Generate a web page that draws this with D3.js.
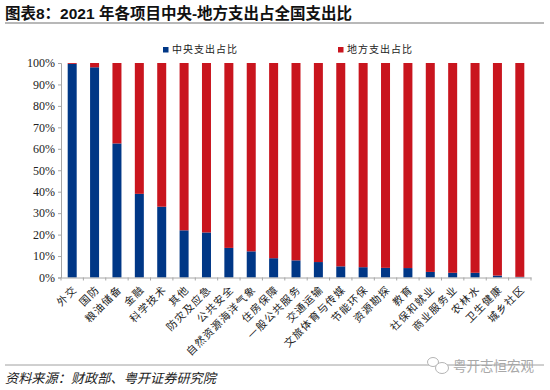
<!DOCTYPE html>
<html>
<head>
<meta charset="utf-8">
<script src="https://cdn.jsdelivr.net/npm/d3@7"></script>
<style>
  html, body { margin: 0; padding: 0; background: #fff; }
  svg { display: block; }
  .cjk { font-family: "Noto Sans CJK SC", sans-serif; }
  .axis text { font-family: "Liberation Serif", serif; font-size: 12px; fill: #222; }
  .axis path, .axis line { stroke: #a6a6a6; }
</style>
</head>
<body>
<div id="chart"></div>
<script>
var categories = ["外交", "国防", "粮油储备", "金融", "科学技术", "其他", "防灾及应急", "公共安全",
  "自然资源海洋气象", "住房保障", "一般公共服务", "交通运输", "文旅体育与传媒", "节能环保",
  "资源勘探", "教育", "社保和就业", "商业服务业", "农林水", "卫生健康", "城乡社区"];
var centralShare = [99.6, 98, 62.5, 39, 33, 22, 21, 13.8, 12.2, 9, 8, 7.2, 5.2, 4.8, 4.5, 4.4, 2.6, 2.2, 2.2, 0.9, 0.3];
var localShare = [0.4, 2, 37.5, 61, 67, 78, 79, 86.2, 87.8, 91, 92, 92.8, 94.8, 95.2, 95.5, 95.6, 97.4, 97.8, 97.8, 99.1, 99.7];
var yTicks = [0, 10, 20, 30, 40, 50, 60, 70, 80, 90, 100];
var seriesNames = ["中央支出占比", "地方支出占比"];
var seriesColors = ["#003786", "#c9151e"];

var width = 550, height = 390;
var margin = {top: 63, right: 19, bottom: 112, left: 61};

var svg = d3.select("#chart").append("svg")
  .attr("width", width)
  .attr("height", height);

// title and rules
svg.append("text")
  .attr("x", 5)
  .attr("y", 19)
  .style("font-family", "'Liberation Sans', 'Noto Sans CJK SC', sans-serif")
  .style("font-size", "15.5px")
  .style("font-weight", "700")
  .style("fill", "#111")
  .text("图表8：2021 年各项目中央-地方支出占全国支出比");

svg.append("line")
  .attr("x1", 5).attr("x2", 544).attr("y1", 23).attr("y2", 23)
  .attr("stroke", "#a0a0a0").attr("stroke-width", 1.5);

svg.append("line")
  .attr("x1", 5).attr("x2", 544).attr("y1", 365).attr("y2", 365)
  .attr("stroke", "#a0a0a0").attr("stroke-width", 1);

var x = d3.scaleBand()
  .domain(categories)
  .range([margin.left, width - margin.right]);

var y = d3.scaleLinear()
  .domain([0, 100])
  .range([height - margin.bottom - 0.5, margin.top]);

var barWidth = 9;

// stacked bars, central at the bottom
var rows = categories.map(function(c, i) {
  return {name: c, central: centralShare[i], local: localShare[i]};
});
var stack = d3.stack().keys(["central", "local"]);
var layers = svg.selectAll(".layer")
  .data(stack(rows))
  .enter().append("g")
  .attr("class", "layer")
  .attr("fill", function(d, i) { return seriesColors[i]; });

layers.selectAll("rect")
  .data(function(d) { return d; })
  .enter().append("rect")
  .attr("x", function(d) { return x(d.data.name) + x.bandwidth() / 2 - barWidth / 2; })
  .attr("y", function(d) { return y(d[1]); })
  .attr("width", barWidth)
  .attr("height", function(d) { return y(d[0]) - y(d[1]); });

// axes
svg.append("g")
  .attr("class", "axis")
  .attr("transform", "translate(" + margin.left + ",0)")
  .call(d3.axisLeft(y).tickValues(yTicks).tickSize(3).tickFormat(function(d) { return d + "%"; }));

var xAxis = svg.append("g")
  .attr("class", "axis")
  .attr("transform", "translate(0," + y(0) + ")")
  .call(d3.axisBottom(x).tickSize(0));

xAxis.selectAll(".tick text")
  .attr("class", "cjk")
  .style("font-family", "'Noto Sans CJK SC', sans-serif")
  .style("font-size", "10.5px")
  .style("letter-spacing", "1.2px")
  .style("text-anchor", "end")
  .attr("x", 0)
  .attr("y", 0)
  .attr("dy", "0.35em")
  .attr("transform", "translate(3,10) rotate(-45)");

// ticks sit between the bars
svg.append("g")
  .selectAll("line")
  .data(d3.range(categories.length + 1))
  .enter().append("line")
  .attr("x1", function(i) { return margin.left + i * x.step(); })
  .attr("x2", function(i) { return margin.left + i * x.step(); })
  .attr("y1", y(0))
  .attr("y2", y(0) + 3)
  .attr("stroke", "#a6a6a6");

// legend
var legendX = [163, 338];
var legend = svg.selectAll(".legend")
  .data(seriesNames)
  .enter().append("g")
  .attr("class", "legend")
  .attr("transform", function(d, i) { return "translate(" + legendX[i] + ",47)"; });

legend.append("rect")
  .attr("width", 5.5)
  .attr("height", 5.5)
  .attr("fill", function(d, i) { return seriesColors[i]; });

legend.append("text")
  .attr("class", "cjk")
  .attr("x", 9)
  .attr("y", 6.3)
  .style("font-size", "10px")
  .style("letter-spacing", "1px")
  .style("fill", "#222")
  .text(function(d) { return d; });

// source line
svg.append("text")
  .attr("class", "cjk")
  .attr("x", 5)
  .attr("y", 383)
  .style("font-size", "13.2px")
  .style("font-style", "italic")
  .style("fill", "#222")
  .text("资料来源：财政部、粤开证券研究院");

// watermark
var mark = svg.append("g").attr("fill", "#fff").attr("stroke", "#b5b5b5").attr("stroke-width", 1);
mark.append("ellipse").attr("cx", 433).attr("cy", 362).attr("rx", 5.5).attr("ry", 4.5);
mark.append("ellipse").attr("cx", 442).attr("cy", 368).attr("rx", 6.5).attr("ry", 5.5);

svg.append("text")
  .attr("class", "cjk")
  .attr("x", 453)
  .attr("y", 371)
  .style("font-size", "13.5px")
  .style("fill", "#a8a8a8")
  .text("粤开志恒宏观");
</script>
</body>
</html>
